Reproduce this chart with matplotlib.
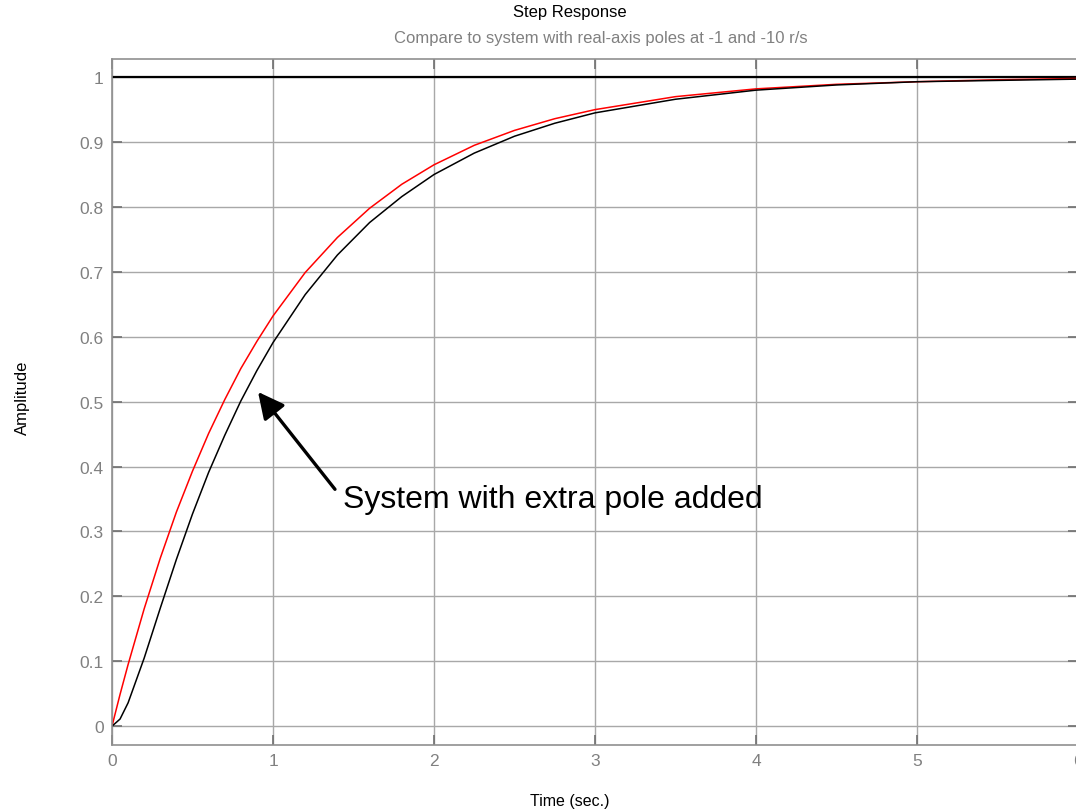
import matplotlib.pyplot as plt

# step response samples (time in sec.)
t = [0, 0.05, 0.1, 0.2, 0.3, 0.4, 0.5, 0.6, 0.7, 0.8, 0.9, 1.0, 1.2, 1.4, 1.6,
     1.8, 2.0, 2.25, 2.5, 2.75, 3.0, 3.5, 4.0, 4.5, 5.0, 5.5, 6.0]
# single real pole at -1
y_one_pole = [0, 0.049, 0.095, 0.181, 0.259, 0.330, 0.393, 0.451, 0.503, 0.551,
              0.593, 0.632, 0.699, 0.753, 0.798, 0.835, 0.865, 0.895, 0.918,
              0.936, 0.950, 0.970, 0.982, 0.989, 0.993, 0.996, 0.998]
# poles at -1 and -10
y_two_pole = [0, 0.011, 0.036, 0.105, 0.182, 0.257, 0.327, 0.391, 0.448, 0.501,
              0.548, 0.591, 0.665, 0.726, 0.776, 0.816, 0.850, 0.883, 0.909,
              0.929, 0.945, 0.966, 0.980, 0.988, 0.993, 0.995, 0.997]

xticks = [0, 1, 2, 3, 4, 5, 6]
yticks = [0, 0.1, 0.2, 0.3, 0.4, 0.5, 0.6, 0.7, 0.8, 0.9, 1]
ytick_labels = ['0', '0.1', '0.2', '0.3', '0.4', '0.5', '0.6', '0.7', '0.8', '0.9', '1']

plt.rcParams['font.family'] = ['Liberation Sans', 'DejaVu Sans']
grey = '#808080'

fig = plt.figure(figsize=(10.76, 8.12), dpi=100)
ax = fig.add_axes([112/1076, 1-746/812, 966/1076, 686/812])

ax.grid(True, color='#a8a8a8', linewidth=1.0)
ax.set_axisbelow(True)
ax.axhline(1, color='black', linewidth=1.6)
ax.plot(t, y_one_pole, color='red', linewidth=1.1)
ax.plot(t, y_two_pole, color='black', linewidth=1.1)

ax.set_xlim(0, 6)
ax.set_ylim(-0.029, 1.028)
ax.set_xticks(xticks)
ax.set_yticks(yticks)
ax.set_yticklabels(ytick_labels)
ax.tick_params(direction='in', length=7, width=1.2, color='#707070',
               labelcolor=grey, labelsize=12.5, top=True, right=True, pad=6)
for s in ax.spines.values():
    s.set_color('#909090')
    s.set_linewidth(1.2)

# arrow pointing at the two-pole curve, label placed beside its tail
ax.annotate('', xy=(0.907, 0.515), xytext=(1.385, 0.365),
            arrowprops=dict(arrowstyle='-|>', color='black', lw=2.4,
                            mutation_scale=40, shrinkA=0, shrinkB=0))
ax.text(1.435, 0.35, 'System with extra pole added', fontsize=23,
        va='center', ha='left', color='black')

fig.text(570/1076, 1-12/812, 'Step Response', ha='center', va='center',
         fontsize=12)
fig.text(601/1076, 1-38/812, 'Compare to system with real-axis poles at -1 and -10 r/s',
         ha='center', va='center', fontsize=12, color=grey)
fig.text(570/1076, 1-802/812, 'Time (sec.)', ha='center', va='center',
         fontsize=11.5)
fig.text(22/1076, 1-398/812, 'Amplitude', ha='center', va='center',
         rotation=90, fontsize=12)

fig.savefig('out.png', dpi=100)
